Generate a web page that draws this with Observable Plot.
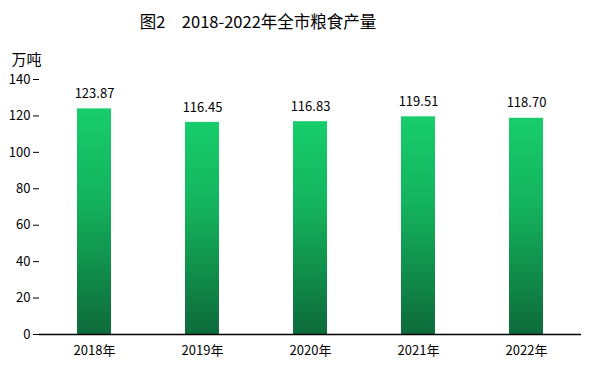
<!DOCTYPE html>
<html><head><meta charset="utf-8">
<script src="https://cdn.jsdelivr.net/npm/d3@7"></script>
<script src="https://cdn.jsdelivr.net/npm/@observablehq/plot@0.6"></script>
<style>
body{margin:0;background:#fff;font-family:"Noto Sans CJK SC",sans-serif;}
#title{width:516px;height:40px;line-height:42px;text-align:center;font-size:16.5px;font-weight:400;color:#000;}
</style></head>
<body>
<div id="title">图2　2018-2022年全市粮食产量</div>
<div id="chart"></div>
<script>
const years = ["2018年","2019年","2020年","2021年","2022年"];
const values = [123.87,116.45,116.83,119.51,118.70];
const labels = ["123.87","116.45","116.83","119.51","118.70"];
const yTicks = [0,20,40,60,80,100,120,140];
const unit = "万吨";
const data = years.map((y,i)=>({year:y,value:values[i],label:labels[i]}));

const chart = Plot.plot({
  width:595, height:337,
  marginLeft:39, marginRight:14, marginTop:39, marginBottom:43,
  style:{fontFamily:"'Noto Sans CJK SC', sans-serif", fontSize:"13px", color:"#000", background:"#fff"},
  x:{domain:years, paddingInner:0.686, paddingOuter:0.343, label:null},
  y:{domain:[0,140], ticks:yTicks, label:null},
  marks:[
    Plot.barY(data,{x:"year",y:"value",fill:"url(#barGrad)"}),
    Plot.text(data,{x:"year",y:"value",text:"label",dy:-15,fontSize:13,fill:"#000"}),
    Plot.axisY({ticks:yTicks,tickSize:6,tickPadding:3,fontSize:13,fill:"#000",label:null}),
    Plot.axisX({tickSize:0,tickPadding:11,fontSize:13,fill:"#000",label:null}),
    Plot.ruleX([0],{frameAnchor:"left",stroke:"#000",strokeWidth:1.5}),
    Plot.ruleY([0],{stroke:"#000",strokeWidth:1.5}),
    Plot.text([unit],{frameAnchor:"top-left",dx:-28,dy:-19,textAnchor:"start",lineAnchor:"middle",fontSize:15,fill:"#000"})
  ]
});
const svg = d3.select(chart);
const defs = svg.insert("defs",":first-child");
const g = defs.append("linearGradient").attr("id","barGrad").attr("x1",0).attr("y1",0).attr("x2",0).attr("y2",1);
g.append("stop").attr("offset","0%").attr("stop-color","#17cd6b");
g.append("stop").attr("offset","40%").attr("stop-color","#14b35d");
g.append("stop").attr("offset","100%").attr("stop-color","#0d6b3a");
document.getElementById("chart").appendChild(chart);
</script>
</body></html>
